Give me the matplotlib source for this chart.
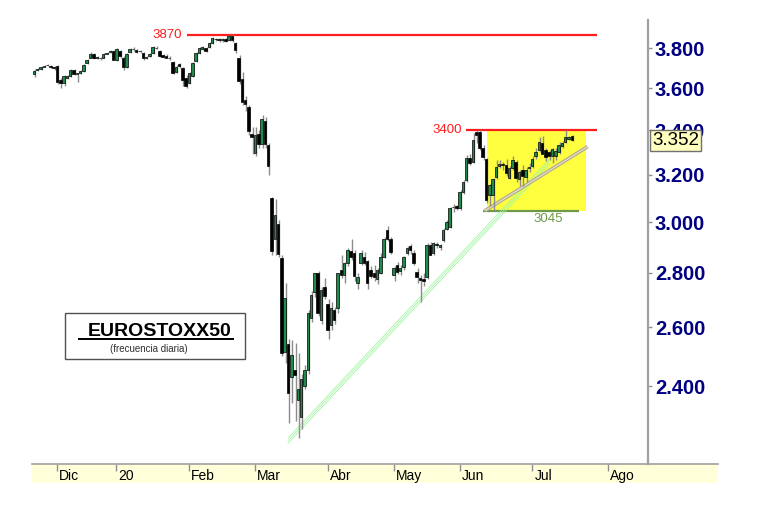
import numpy as np
import matplotlib
matplotlib.use("Agg")
import matplotlib.pyplot as plt
import matplotlib.transforms as mtransforms
from matplotlib.patches import Rectangle
from matplotlib.lines import Line2D
from matplotlib.ticker import NullLocator

plt.rcParams['font.family'] = ['Liberation Sans', 'DejaVu Sans']

# daily candles, 21 Nov 2019 .. 17 Jul 2020 (trading days only)
opens = [
    3668, 3688, 3694, 3706, 3712, 3710, 3702,
    3708, 3640, 3626, 3650, 3660, 3690, 3668, 3672, 3686, 3726, 3750, 3772, 3752, 3750, 3750, 3772, 3780, 3788,
    3740, 3786, 3752, 3704, 3782, 3796, 3792, 3784, 3776, 3752, 3758, 3774, 3802, 3784, 3764, 3762, 3752, 3730,
    3680, 3718, 3700, 3648,
    3624, 3660, 3736, 3778, 3798, 3800, 3804, 3828, 3848, 3846, 3842, 3846, 3842, 3866, 3826, 3748, 3642, 3540,
    3510, 3384,
    3296, 3382, 3334, 3444, 3330, 3098, 2930, 2990, 2856, 2514, 2540, 2430, 2452, 2355, 2300, 2400, 2453, 2633,
    2728, 2799, 2626, 2746,
    2684, 2608, 2662, 2669, 2811, 2790, 2838, 2884, 2876, 2762, 2838, 2862, 2845, 2811, 2799, 2775, 2799, 2862,
    2968, 2930,
    2792, 2830, 2808, 2822, 2878, 2904, 2876, 2803, 2780, 2776, 2784, 2908, 2876, 2910, 2900, 2928, 2972, 2980,
    3060, 3066,
    3058, 3125, 3177, 3273, 3255, 3391, 3391, 3318, 3268, 3113, 3113, 3190, 3236, 3246, 3242, 3185, 3229, 3255,
    3180, 3220, 3190, 3230,
    3236, 3280, 3309, 3341, 3309, 3300, 3283, 3280, 3300, 3325, 3346, 3360, 3372,
]
highs = [
    3693, 3700, 3710, 3712, 3718, 3714, 3708,
    3712, 3648, 3662, 3664, 3694, 3694, 3676, 3690, 3722, 3746, 3782, 3775, 3760, 3756, 3778, 3780, 3792, 3792,
    3800, 3790, 3758, 3778, 3802, 3804, 3798, 3792, 3780, 3760, 3776, 3812, 3810, 3792, 3772, 3770, 3758, 3734,
    3712, 3726, 3704, 3662,
    3680, 3730, 3782, 3806, 3812, 3808, 3832, 3858, 3856, 3854, 3852, 3854, 3870, 3872, 3830, 3766, 3678, 3560,
    3520, 3416,
    3415, 3400, 3472, 3460, 3340, 3104, 3096, 3008, 2868, 2760, 2560, 2556, 2544, 2510, 2440, 2470, 2660, 2730,
    2800, 2805, 2745, 2780,
    2700, 2690, 2672, 2800, 2870, 2842, 2895, 2930, 2888, 2800, 2890, 2880, 2850, 2826, 2830, 2818, 2875, 2940,
    2982, 2940,
    2825, 2842, 2830, 2865, 2905, 2910, 2890, 2820, 2792, 2800, 2915, 2918, 2920, 2920, 2912, 2976, 3010, 3062,
    3075, 3072,
    3135, 3175, 3285, 3290, 3386, 3402, 3400, 3330, 3272, 3160, 3185, 3262, 3262, 3256, 3268, 3236, 3280, 3262,
    3220, 3240, 3232, 3250,
    3280, 3320, 3368, 3372, 3318, 3310, 3318, 3320, 3345, 3350, 3398, 3372, 3378,
]
lows = [
    3653, 3684, 3690, 3702, 3708, 3698, 3690,
    3620, 3598, 3610, 3646, 3656, 3666, 3630, 3668, 3680, 3722, 3748, 3745, 3746, 3742, 3748, 3770, 3776, 3738,
    3736, 3752, 3690, 3698, 3776, 3788, 3776, 3778, 3742, 3744, 3754, 3770, 3796, 3756, 3748, 3748, 3740, 3668,
    3672, 3700, 3608, 3600,
    3618, 3654, 3730, 3772, 3790, 3782, 3800, 3824, 3836, 3832, 3830, 3830, 3836, 3832, 3774, 3622, 3520, 3490,
    3376, 3290,
    3280, 3320, 3320, 3320, 3198, 2870, 2870, 2860, 2500, 2476, 2283, 2346, 2290, 2237, 2265, 2390, 2440, 2620,
    2710, 2640, 2610, 2700,
    2560, 2590, 2610, 2650, 2780, 2760, 2826, 2850, 2770, 2740, 2830, 2830, 2740, 2780, 2770, 2756, 2795, 2855,
    2925, 2872,
    2770, 2795, 2790, 2812, 2870, 2872, 2830, 2762, 2691, 2750, 2776, 2868, 2868, 2896, 2888, 2920, 2966, 2975,
    3040, 3050,
    3050, 3118, 3170, 3240, 3250, 3340, 3310, 3265, 3080, 3068, 3045, 3180, 3228, 3222, 3195, 3180, 3220, 3170,
    3150, 3150, 3170, 3210,
    3228, 3270, 3300, 3290, 3260, 3262, 3250, 3262, 3292, 3318, 3340, 3352, 3348,
]
closes = [
    3684, 3694, 3705, 3708, 3714, 3702, 3698,
    3630, 3625, 3658, 3660, 3690, 3670, 3672, 3684, 3716, 3740, 3772, 3752, 3754, 3748, 3770, 3776, 3786, 3742,
    3794, 3760, 3702, 3772, 3798, 3794, 3780, 3786, 3748, 3756, 3772, 3808, 3800, 3762, 3756, 3752, 3748, 3676,
    3706, 3710, 3640, 3612,
    3672, 3724, 3776, 3800, 3806, 3786, 3828, 3852, 3846, 3842, 3848, 3838, 3862, 3844, 3792, 3634, 3534, 3522,
    3394, 3366,
    3378, 3334, 3452, 3334, 3238, 2884, 3028, 2872, 2512, 2704, 2376, 2504, 2436, 2391, 2424, 2453, 2651, 2717,
    2799, 2651, 2735, 2712,
    2591, 2669, 2626, 2799, 2790, 2838, 2888, 2860, 2786, 2784, 2876, 2838, 2762, 2786, 2784, 2811, 2861, 2930,
    2930, 2880,
    2818, 2804, 2818, 2861, 2896, 2888, 2838, 2784, 2773, 2770, 2908, 2870, 2915, 2906, 2908, 2968, 3000, 3058,
    3062, 3058,
    3125, 3168, 3273, 3251, 3354, 3377, 3318, 3278, 3092, 3155, 3180, 3233, 3248, 3240, 3207, 3229, 3264, 3185,
    3212, 3195, 3222, 3232,
    3268, 3300, 3345, 3290, 3278, 3282, 3312, 3305, 3332, 3340, 3368, 3366, 3352,
]

month_pos = [7, 25, 47, 67, 89, 109, 129, 151, 174]
month_labels = ['Dic', '20', 'Feb', 'Mar', 'Abr', 'May', 'Jun', 'Jul', 'Ago']
price_ticks = [2400, 2600, 2800, 3000, 3200, 3400, 3600, 3800]
last_price = 3352

top_level, top_from, top_to = 3870, 46.3, 170.6
mid_level, mid_from, mid_to = 3400, 130.9, 170.6
sup_level, sup_from, sup_to = 3045, 136.1, 165.1
range_from, range_to = 137.2, 167.2
trend_x, trend_y = [77.0, 156.4], [2228, 3260]
grey_x, grey_y = [136.7, 167.8], [3047, 3324]

opens = np.array(opens, float)
highs = np.array(highs, float)
lows = np.array(lows, float)
closes = np.array(closes, float)
x = np.arange(len(closes))

W, H = 761, 512
fig = plt.figure(figsize=(W / 100, H / 100), dpi=100)
ax = fig.add_axes([32 / W, 48 / H, 616 / W, 444 / H])
ax.set_yscale('log')
ax.set_xlim(-0.58, 186.09)
ax.set_ylim(2158.6, 3949)

# consolidation box and levels
ax.add_patch(Rectangle((range_from, sup_level), range_to - range_from, mid_level - sup_level,
                       facecolor='#ffff40', edgecolor='none', zorder=1))
ax.hlines(top_level, top_from, top_to, color='#ff1c1c', lw=1.6, zorder=2)
ax.hlines(mid_level, mid_from, mid_to, color='#ff1c1c', lw=1.6, zorder=2)
ax.hlines(sup_level, sup_from, sup_to, color='#6e9a48', lw=1.6, zorder=2)

# three thin parallel trend lines
for d in (-2.6, 0, 2.6):
    tr = mtransforms.offset_copy(ax.transData, fig=fig, x=0, y=d, units='dots')
    ax.plot(trend_x, trend_y, color='#9df59d', lw=0.55, transform=tr, zorder=2.5)
ax.plot(grey_x, grey_y, color='#b5ad8c', lw=2.6, zorder=2.6, solid_capstyle='butt')
ax.plot(grey_x, grey_y, color='#e6e2cc', lw=0.8, zorder=2.7)

# candles
up = closes >= opens
colors = np.where(up, '#1f8a4c', 'black')
ax.vlines(x + 0.3, lows, highs, color='#8c8c8c', lw=1, zorder=3)
bottoms = np.minimum(opens, closes)
heights = np.maximum(np.abs(closes - opens), 3)
ax.bar(x, heights, bottom=bottoms, width=0.74, color=colors,
       edgecolor='black', linewidth=0.5, zorder=4)

ax.text(top_from - 1.4, top_level, '3870', ha='right', va='center', color='#ff1c1c', fontsize=9.5)
ax.text(mid_from - 1.2, mid_level, '3400', ha='right', va='center', color='#ff1c1c', fontsize=9.5)
ax.annotate('3045', (155.8, sup_level), xytext=(0, -1.5), textcoords='offset points',
            ha='center', va='top', color='#6e9a48', fontsize=9.5)

# axes styling
for s in ('left', 'top', 'bottom'):
    ax.spines[s].set_visible(False)
ax.spines['right'].set_color('#a0a0a0')
ax.spines['right'].set_linewidth(1.6)
ax.yaxis.tick_right()
ax.set_yticks(price_ticks)
ax.set_yticklabels([f'{v:,}'.replace(',', '.') for v in price_ticks], fontweight='bold')
ax.yaxis.set_minor_locator(NullLocator())
ax.tick_params(axis='y', direction='out', length=3, width=1, color='#909090', pad=2,
               labelsize=14.5, labelcolor='#000080')
ax.set_xticks(month_pos)
ax.set_xticklabels([])
ax.xaxis.set_minor_locator(NullLocator())
ax.tick_params(axis='x', direction='out', length=5, width=1, color='#909090')

btm = mtransforms.blended_transform_factory(ax.transData, ax.transAxes)
for pos, lab in zip(month_pos, month_labels):
    ax.text(pos + 0.7, -0.011, lab, transform=btm, ha='left', va='top', fontsize=10, clip_on=False)

rgt = mtransforms.blended_transform_factory(ax.transAxes, ax.transData)
ax.text(1.0065, last_price, f'{last_price:,}'.replace(',', '.'), transform=rgt, ha='left', va='center',
        fontsize=13.5, zorder=10, clip_on=False,
        bbox=dict(boxstyle='square,pad=0.12', fc='#ffffc0', ec='#707070', lw=1))

# date strip under the chart
fig.add_artist(Rectangle((32 / W, 29 / H), 686 / W, 19 / H, transform=fig.transFigure,
                         facecolor='#ffffd9', edgecolor='none', zorder=-1))
fig.add_artist(Line2D([32 / W, 718 / W], [48 / H, 48 / H], color='#a0a0a0', lw=1.2, zorder=1))

# title box
fig.add_artist(Rectangle((65 / W, 153 / H), 180 / W, 46 / H, transform=fig.transFigure,
                         facecolor='white', edgecolor='#505050', lw=1, zorder=5))
fig.text(159.5 / W, 176 / H, 'EUROSTOXX50', ha='center', va='baseline', fontsize=14,
         fontweight='bold', zorder=6)
fig.add_artist(Line2D([79 / W, 233 / W], [173 / H, 173 / H], color='black', lw=1.4, zorder=6))
fig.text(149 / W, 163 / H, '(frecuencia diaria)', ha='center', va='center', fontsize=7,
         color='#303030', zorder=6)

fig.savefig('out.png', dpi=100)
